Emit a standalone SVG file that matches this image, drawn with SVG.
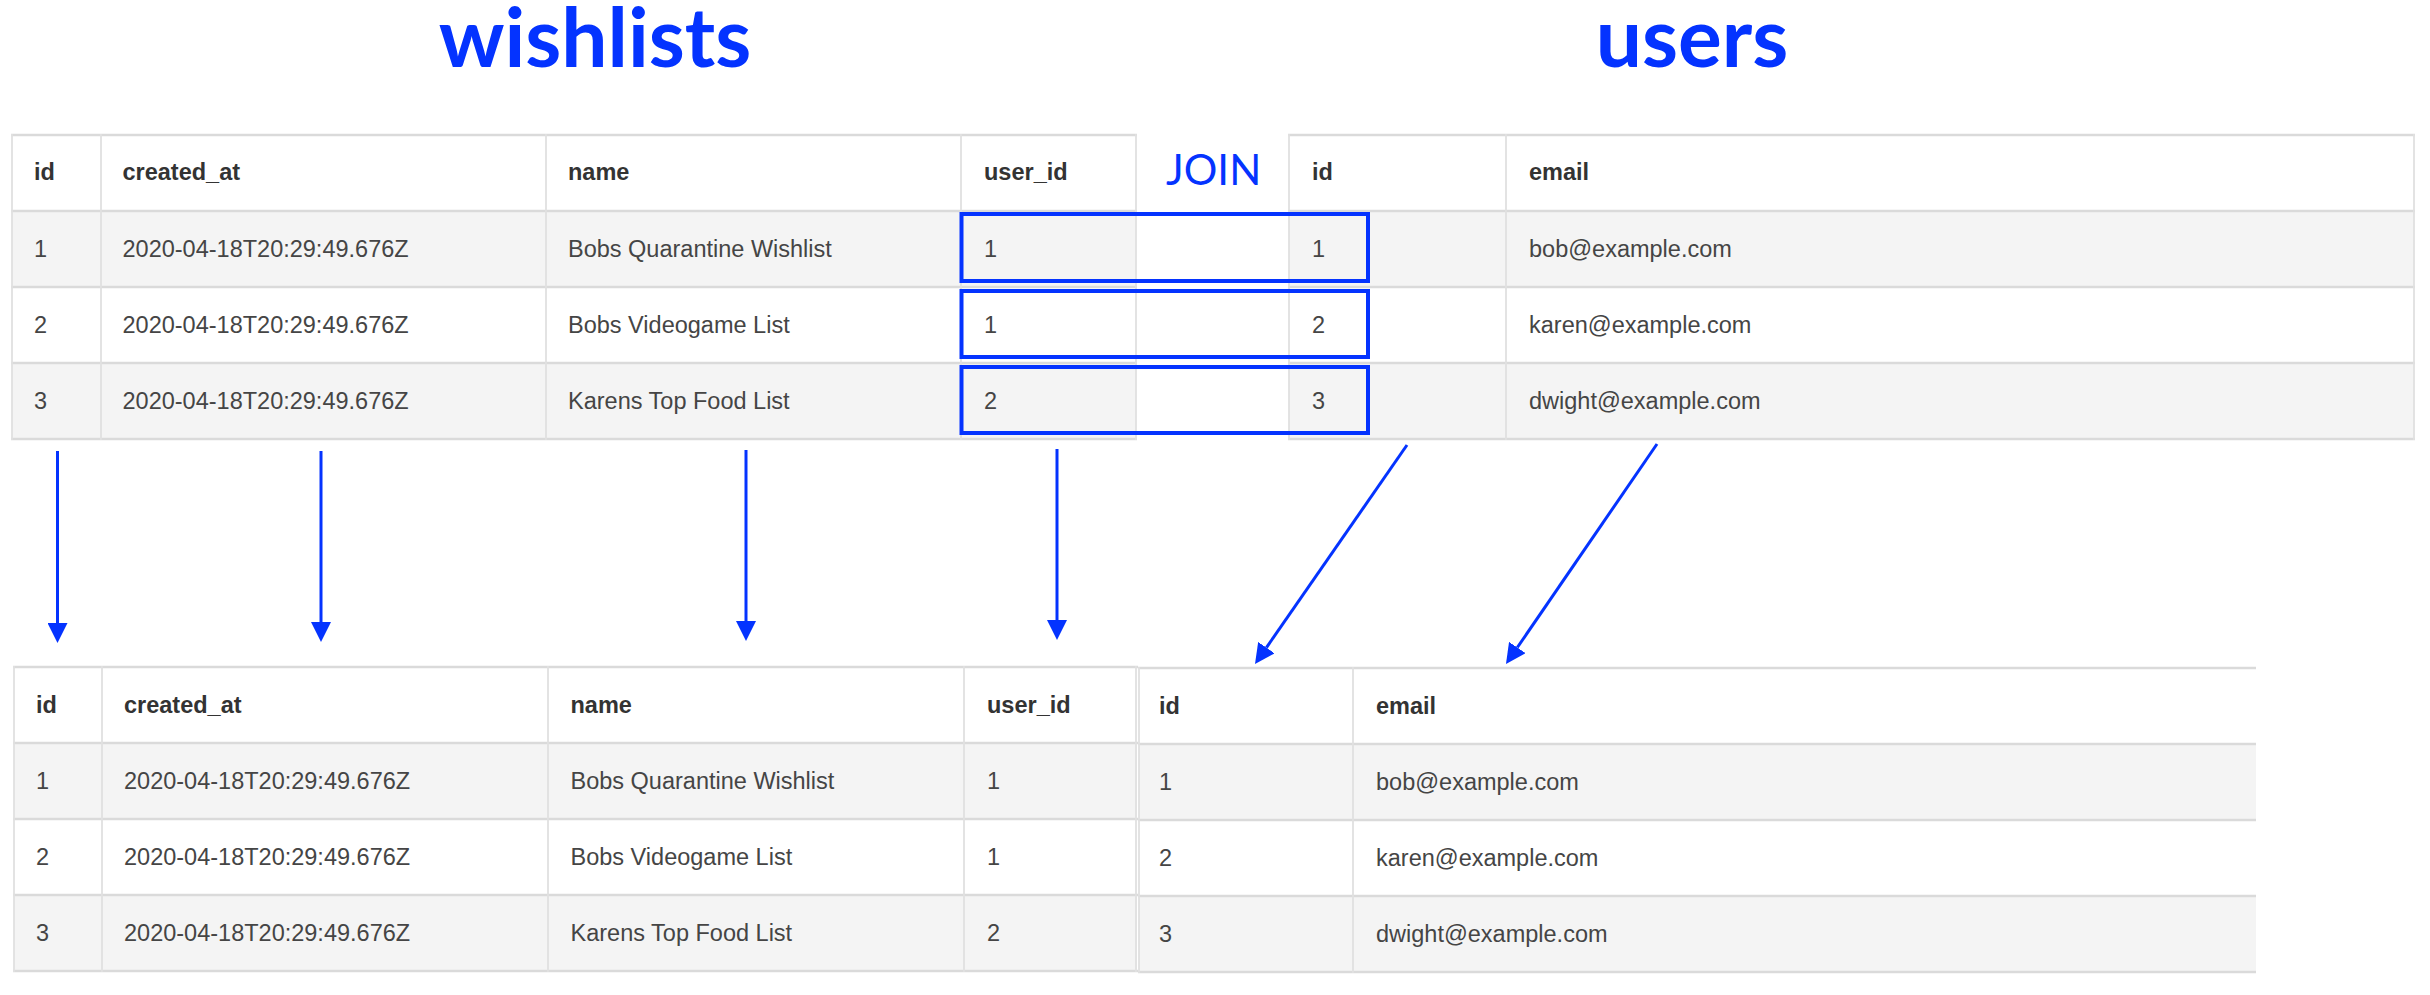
<svg xmlns="http://www.w3.org/2000/svg" width="2430" height="995" viewBox="0 0 2430 995">
<style>
.title{font-family:Lato,"Open Sans",sans-serif;font-weight:700;font-size:82px;fill:#0433ff;text-anchor:middle}
.join{font-family:Lato,"Open Sans",sans-serif;font-weight:400;font-size:42px;fill:#0433ff}
.th{font-family:"Liberation Sans",Arial,sans-serif;font-weight:700;font-size:23.5px;fill:#333}
.td{font-family:"Liberation Sans",Arial,sans-serif;font-size:23.5px;fill:#454545}
.alt{fill:#f4f4f4}
.hl{stroke:#dadada;stroke-width:2.5}
.vl{stroke:#e0e0e0;stroke-width:1.8}
.box{fill:none;stroke:#0433ff;stroke-width:4}
.arr{stroke:#0433ff;stroke-width:3;fill:none;marker-end:url(#ah)}
</style>
<defs>
<marker id="ah" viewBox="0 0 20 20" refX="0" refY="10" markerWidth="20" markerHeight="20" markerUnits="userSpaceOnUse" orient="auto">
<path d="M0,0 L20,10 L0,20 z" fill="#0433ff"/>
</marker>
</defs>
<rect x="0" y="0" width="2430" height="995" fill="#fff"/>

<g id="title-wishlists"><text class="title" x="595" y="67">wishlists</text></g>
<g id="title-users"><text class="title" x="1692" y="67">users</text></g>

<g id="table-wishlists">
<rect class="alt" x="12" y="211" width="1124" height="76"/>
<rect class="alt" x="12" y="363" width="1124" height="76"/>
<line class="hl" x1="11" y1="135" x2="1137" y2="135"/>
<line class="hl" x1="11" y1="211" x2="1137" y2="211"/>
<line class="hl" x1="11" y1="287" x2="1137" y2="287"/>
<line class="hl" x1="11" y1="363" x2="1137" y2="363"/>
<line class="hl" x1="11" y1="439" x2="1137" y2="439"/>
<line class="vl" x1="12" y1="134" x2="12" y2="440"/>
<line class="vl" x1="101" y1="134" x2="101" y2="440"/>
<line class="vl" x1="546" y1="134" x2="546" y2="440"/>
<line class="vl" x1="961" y1="134" x2="961" y2="440"/>
<line class="vl" x1="1136" y1="134" x2="1136" y2="440"/>
<text class="th" x="34" y="180">id</text>
<text class="th" x="122.5" y="180">created_at</text>
<text class="th" x="568" y="180">name</text>
<text class="th" x="984" y="180">user_id</text>
<text class="td" x="34" y="257">1</text>
<text class="td" x="122.5" y="257">2020-04-18T20:29:49.676Z</text>
<text class="td" x="568" y="257">Bobs Quarantine Wishlist</text>
<text class="td" x="984" y="257">1</text>
<text class="td" x="34" y="333">2</text>
<text class="td" x="122.5" y="333">2020-04-18T20:29:49.676Z</text>
<text class="td" x="568" y="333">Bobs Videogame List</text>
<text class="td" x="984" y="333">1</text>
<text class="td" x="34" y="409">3</text>
<text class="td" x="122.5" y="409">2020-04-18T20:29:49.676Z</text>
<text class="td" x="568" y="409">Karens Top Food List</text>
<text class="td" x="984" y="409">2</text>
</g>

<g id="table-users">
<rect class="alt" x="1289" y="211" width="1125" height="76"/>
<rect class="alt" x="1289" y="363" width="1125" height="76"/>
<line class="hl" x1="1288" y1="135" x2="2415" y2="135"/>
<line class="hl" x1="1288" y1="211" x2="2415" y2="211"/>
<line class="hl" x1="1288" y1="287" x2="2415" y2="287"/>
<line class="hl" x1="1288" y1="363" x2="2415" y2="363"/>
<line class="hl" x1="1288" y1="439" x2="2415" y2="439"/>
<line class="vl" x1="1289" y1="134" x2="1289" y2="440"/>
<line class="vl" x1="1506" y1="134" x2="1506" y2="440"/>
<line class="vl" x1="2414" y1="134" x2="2414" y2="440"/>
<text class="th" x="1312" y="180">id</text>
<text class="th" x="1529" y="180">email</text>
<text class="td" x="1312" y="257">1</text>
<text class="td" x="1529" y="257">bob@example.com</text>
<text class="td" x="1312" y="333">2</text>
<text class="td" x="1529" y="333">karen@example.com</text>
<text class="td" x="1312" y="409">3</text>
<text class="td" x="1529" y="409">dwight@example.com</text>
</g>

<g id="join-label"><text class="join" x="1166" y="185">JOIN</text></g>

<g id="join-boxes">
<rect class="box" x="961.5" y="214" width="406.5" height="67"/>
<rect class="box" x="961.5" y="291" width="406.5" height="66"/>
<rect class="box" x="961.5" y="367" width="406.5" height="66"/>
</g>

<g id="result-wishlists">
<rect class="alt" x="14" y="743" width="1123" height="76"/>
<rect class="alt" x="14" y="895" width="1123" height="76"/>
<line class="hl" x1="13" y1="667" x2="1138" y2="667"/>
<line class="hl" x1="13" y1="743" x2="1138" y2="743"/>
<line class="hl" x1="13" y1="819" x2="1138" y2="819"/>
<line class="hl" x1="13" y1="895" x2="1138" y2="895"/>
<line class="hl" x1="13" y1="971" x2="1138" y2="971"/>
<line class="vl" x1="14" y1="666" x2="14" y2="972"/>
<line class="vl" x1="102" y1="666" x2="102" y2="972"/>
<line class="vl" x1="548" y1="666" x2="548" y2="972"/>
<line class="vl" x1="964" y1="666" x2="964" y2="972"/>
<line class="vl" x1="1136" y1="666" x2="1136" y2="972"/>
<text class="th" x="36" y="713">id</text>
<text class="th" x="124" y="713">created_at</text>
<text class="th" x="570.5" y="713">name</text>
<text class="th" x="987" y="713">user_id</text>
<text class="td" x="36" y="789">1</text>
<text class="td" x="124" y="789">2020-04-18T20:29:49.676Z</text>
<text class="td" x="570.5" y="789">Bobs Quarantine Wishlist</text>
<text class="td" x="987" y="789">1</text>
<text class="td" x="36" y="865">2</text>
<text class="td" x="124" y="865">2020-04-18T20:29:49.676Z</text>
<text class="td" x="570.5" y="865">Bobs Videogame List</text>
<text class="td" x="987" y="865">1</text>
<text class="td" x="36" y="941">3</text>
<text class="td" x="124" y="941">2020-04-18T20:29:49.676Z</text>
<text class="td" x="570.5" y="941">Karens Top Food List</text>
<text class="td" x="987" y="941">2</text>
</g>

<g id="result-users">
<rect class="alt" x="1139" y="744" width="1117" height="76"/>
<rect class="alt" x="1139" y="896" width="1117" height="76"/>
<line class="hl" x1="1138" y1="668" x2="2256" y2="668"/>
<line class="hl" x1="1138" y1="744" x2="2256" y2="744"/>
<line class="hl" x1="1138" y1="820" x2="2256" y2="820"/>
<line class="hl" x1="1138" y1="896" x2="2256" y2="896"/>
<line class="hl" x1="1138" y1="972" x2="2256" y2="972"/>
<line class="vl" x1="1139" y1="667" x2="1139" y2="973"/>
<line class="vl" x1="1353" y1="667" x2="1353" y2="973"/>
<text class="th" x="1159" y="714">id</text>
<text class="th" x="1376" y="714">email</text>
<text class="td" x="1159" y="790">1</text>
<text class="td" x="1376" y="790">bob@example.com</text>
<text class="td" x="1159" y="866">2</text>
<text class="td" x="1376" y="866">karen@example.com</text>
<text class="td" x="1159" y="942">3</text>
<text class="td" x="1376" y="942">dwight@example.com</text>
</g>

<g id="connectors">
<line class="arr" x1="57.5" y1="451" x2="57.5" y2="623"/>
<line class="arr" x1="321" y1="451" x2="321" y2="622"/>
<line class="arr" x1="746" y1="450" x2="746" y2="621"/>
<line class="arr" x1="1057" y1="449" x2="1057" y2="620"/>
<line class="arr" x1="1407" y1="445" x2="1266.4" y2="647.6"/>
<line class="arr" x1="1657" y1="444" x2="1517.3" y2="647.5"/>
</g>
</svg>
